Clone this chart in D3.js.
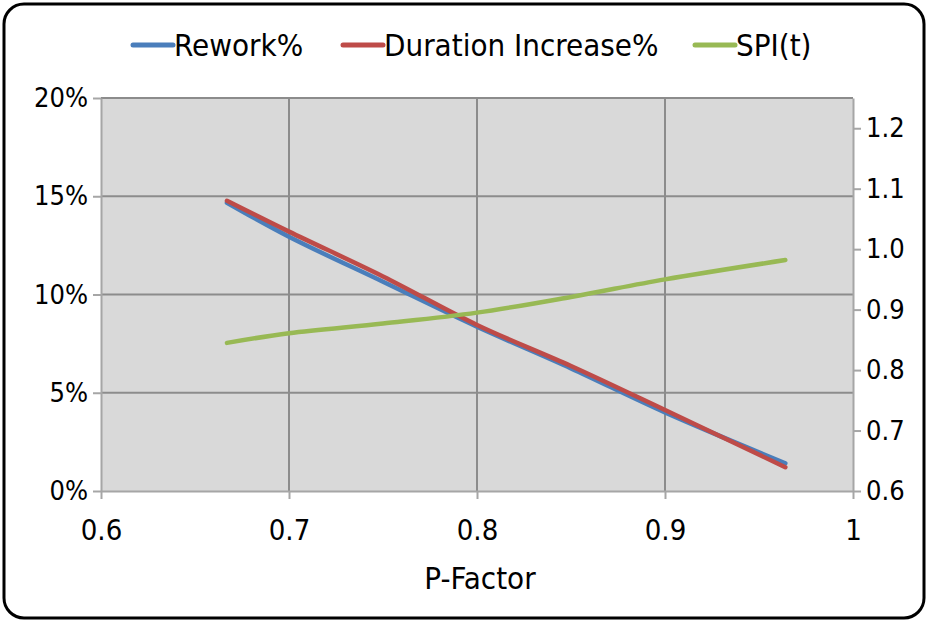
<!DOCTYPE html>
<html>
<head>
<meta charset="utf-8">
<script src="https://cdn.jsdelivr.net/npm/d3@7"></script>
<style>
  body { margin: 0; background: #fff; }
  text { font-family: "Liberation Sans Narrow", "DejaVu Sans Condensed", sans-serif; fill: #000; }
</style>
</head>
<body>
<div id="chart"></div>
<script>
// data
var pFactor = [0.667, 0.7, 0.75, 0.8, 0.85, 0.9, 0.964];
var rework = [0.1467, 0.1294, 0.1065, 0.0836, 0.0624, 0.0400, 0.0141];
var durationIncrease = [0.1477, 0.1320, 0.1092, 0.0845, 0.0636, 0.0412, 0.0121];
var spi = [0.845, 0.861, 0.877, 0.895, 0.921, 0.950, 0.982];

var xTicks = [0.6, 0.7, 0.8, 0.9, 1];
var leftTicks = [0, 0.05, 0.10, 0.15, 0.20];
var rightTicks = [0.6, 0.7, 0.8, 0.9, 1.0, 1.1, 1.2];

var seriesNames = ["Rework%", "Duration Increase%", "SPI(t)"];
var seriesColors = ["#4a7ebb", "#be4b48", "#98b954"];

var W = 928, H = 622;
var margin = {top: 98, right: 75, bottom: 131, left: 101},
    width = W - margin.left - margin.right,
    height = H - margin.top - margin.bottom;

var svg = d3.select("#chart")
  .append("svg")
    .attr("width", W)
    .attr("height", H);

// outer rounded frame
svg.append("rect")
  .attr("x", 4).attr("y", 4)
  .attr("width", W - 8).attr("height", H - 8)
  .attr("rx", 20)
  .attr("fill", "#fff")
  .attr("stroke", "#000")
  .attr("stroke-width", 3);

var g = svg.append("g")
  .attr("transform", "translate(" + margin.left + "," + margin.top + ")");

var x = d3.scaleLinear().domain([0.6, 1]).range([0, width]);
var yL = d3.scaleLinear().domain([0, 0.2]).range([height, 0]);
var yR = d3.scaleLinear().domain([0.6, 1.25]).range([height, 0]);

// plot background
g.append("rect")
  .attr("width", width).attr("height", height)
  .attr("fill", "#d9d9d9");

// gridlines
g.append("g").selectAll("line")
  .data(leftTicks.slice(1))
  .join("line")
    .attr("x1", 0).attr("x2", width)
    .attr("y1", function(d) { return yL(d); })
    .attr("y2", function(d) { return yL(d); })
    .attr("stroke", "#8c8c8c").attr("stroke-width", 2);

g.append("g").selectAll("line")
  .data(xTicks.slice(1, -1))
  .join("line")
    .attr("x1", function(d) { return x(d); })
    .attr("x2", function(d) { return x(d); })
    .attr("y1", 0).attr("y2", height)
    .attr("stroke", "#8c8c8c").attr("stroke-width", 2);

// axes
function styleAxis(sel) {
  sel.select(".domain").attr("stroke", "#a6a6a6").attr("stroke-width", 2);
  sel.selectAll(".tick line").attr("stroke", "#a6a6a6").attr("stroke-width", 2);
  sel.selectAll(".tick text").attr("fill", "#000");
}

g.append("g")
  .attr("transform", "translate(0," + height + ")")
  .call(d3.axisBottom(x).tickValues(xTicks).tickSize(8).tickSizeOuter(0)
    .tickFormat(function(d) { return d === 1 ? "1" : d3.format(".1f")(d); }))
  .call(styleAxis)
  .call(function(a) {
    a.selectAll(".tick text").attr("font-size", 29).attr("dy", "0.71em").attr("y", 28);
    a.attr("font-family", null);
  });

g.append("g")
  .call(d3.axisLeft(yL).tickValues(leftTicks).tickSize(8).tickSizeOuter(0)
    .tickFormat(d3.format(".0%")))
  .call(styleAxis)
  .call(function(a) {
    a.selectAll(".tick text").attr("font-size", 27).attr("x", -13);
    a.attr("font-family", null);
  });

g.append("g")
  .attr("transform", "translate(" + width + ",0)")
  .call(d3.axisRight(yR).tickValues(rightTicks).tickSize(8).tickSizeOuter(0)
    .tickFormat(d3.format(".1f")))
  .call(styleAxis)
  .call(function(a) {
    a.selectAll(".tick text").attr("font-size", 27).attr("x", 13);
    a.attr("font-family", null);
  });

// series
var curve = d3.curveCatmullRom.alpha(0.5);
var lineL = function(vals) {
  return d3.line()
    .x(function(d, i) { return x(pFactor[i]); })
    .y(function(d) { return yL(d); })
    .curve(curve)(vals);
};

g.append("path")
  .attr("d", lineL(rework))
  .attr("fill", "none").attr("stroke", seriesColors[0])
  .attr("stroke-width", 4.5).attr("stroke-linecap", "round");

g.append("path")
  .attr("d", lineL(durationIncrease))
  .attr("fill", "none").attr("stroke", seriesColors[1])
  .attr("stroke-width", 4.5).attr("stroke-linecap", "round");

g.append("path")
  .attr("d", d3.line()
    .x(function(d, i) { return x(pFactor[i]); })
    .y(function(d) { return yR(d); })
    .curve(curve)(spi))
  .attr("fill", "none").attr("stroke", seriesColors[2])
  .attr("stroke-width", 4.5).attr("stroke-linecap", "round");

// x axis title
svg.append("text")
  .attr("x", 480).attr("y", 578)
  .attr("dy", "0.35em")
  .attr("text-anchor", "middle")
  .attr("font-size", 31)
  .text("P-Factor");

// legend
var legendX = [133, 343, 695];
var legend = svg.append("g").selectAll("g")
  .data(seriesNames)
  .join("g")
    .attr("transform", function(d, i) { return "translate(" + legendX[i] + ",45)"; });

legend.append("line")
  .attr("x1", 0).attr("x2", 40)
  .attr("stroke", function(d, i) { return seriesColors[i]; })
  .attr("stroke-width", 5).attr("stroke-linecap", "round");

legend.append("text")
  .attr("x", 41).attr("dy", "0.35em")
  .attr("font-size", 31)
  .text(function(d) { return d; });
</script>
</body>
</html>
